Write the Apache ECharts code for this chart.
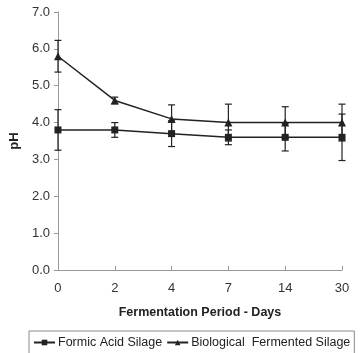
<!DOCTYPE html>
<html><head><meta charset="utf-8">
<script src="https://cdn.jsdelivr.net/npm/echarts@6/dist/echarts.min.js"></script>
<style>html,body{margin:0;padding:0;background:#fff}#c{width:361px;height:353px}</style>
</head><body><div id="c"></div>
<script>
const days = ['0','2','4','7','14','30'];
const formicPH = [3.8, 3.8, 3.7, 3.6, 3.6, 3.6];
const formicErr = [0.55, 0.2, 0.35, 0.2, 0.37, 0.63];
const bioPH = [5.8, 4.6, 4.1, 4.0, 4.0, 4.0];
const bioErr = [0.43, 0.09, 0.38, 0.5, 0.43, 0.5];
const yTicks = [0, 1, 2, 3, 4, 5, 6, 7];

function errData(vals, errs){ return vals.map((v,i)=>[i, v - errs[i], v + errs[i]]); }
function renderErr(params, api){
  const lo = api.coord([api.value(0), api.value(1)]);
  const hi = api.coord([api.value(0), api.value(2)]);
  const w = 3.5;
  const st = {stroke:'#222', lineWidth:1.2};
  return {type:'group', children:[
    {type:'line', shape:{x1:lo[0],y1:lo[1],x2:hi[0],y2:hi[1]}, style:st},
    {type:'line', shape:{x1:lo[0]-w,y1:lo[1],x2:lo[0]+w,y2:lo[1]}, style:st},
    {type:'line', shape:{x1:hi[0]-w,y1:hi[1],x2:hi[0]+w,y2:hi[1]}, style:st}
  ]};
}
const chart = echarts.init(document.getElementById('c'));
const font = 'Liberation Sans, Arial, sans-serif';
chart.setOption({
  animation:false,
  grid:{left:52, right:19, top:12, bottom:83},
  legend:{
    data:['Formic Acid Silage','Biological  Fermented Silage'],
    left:29, top:331,
    borderColor:'#888', borderWidth:1, padding:[5,4,8,4], itemGap:4,
    itemWidth:21, itemHeight:7,
    textStyle:{fontFamily:font, fontSize:12.5, color:'#222', padding:[0,0,0,-2]}
  },
  xAxis:{
    type:'category', data:days, boundaryGap:false,
    name:'Fermentation Period - Days', nameLocation:'middle', nameGap:36,
    nameTextStyle:{fontFamily:font, fontSize:12.5, fontWeight:'bold', color:'#222'},
    axisLine:{lineStyle:{color:'#999', width:1}},
    axisTick:{inside:true, length:4, lineStyle:{color:'#999'}},
    axisLabel:{fontFamily:font, fontSize:13, color:'#333', margin:12}
  },
  yAxis:{
    type:'value', min:0, max:7, interval:1,
    name:'pH', nameLocation:'middle', nameGap:36, nameRotate:90,
    nameTextStyle:{fontFamily:font, fontSize:13, fontWeight:'bold', color:'#222'},
    axisLine:{show:true, lineStyle:{color:'#999', width:1}},
    axisTick:{show:true, length:4, lineStyle:{color:'#999'}},
    splitLine:{show:false},
    axisLabel:{fontFamily:font, fontSize:13, color:'#333', margin:8,
      formatter:v=> yTicks.includes(v) ? v.toFixed(1) : ''}
  },
  series:[
    {name:'Formic Acid Silage', type:'line', data:formicPH, symbol:'rect', symbolSize:7,
     lineStyle:{color:'#222', width:1.5}, itemStyle:{color:'#222'}, z:5},
    {name:'Biological  Fermented Silage', type:'line', data:bioPH, symbol:'triangle', symbolSize:8,
     lineStyle:{color:'#222', width:1.5}, itemStyle:{color:'#222'}, z:5},
    {type:'custom', data:errData(formicPH, formicErr), renderItem:renderErr, z:4, silent:true},
    {type:'custom', data:errData(bioPH, bioErr), renderItem:renderErr, z:4, silent:true}
  ]
});
</script></body></html>
